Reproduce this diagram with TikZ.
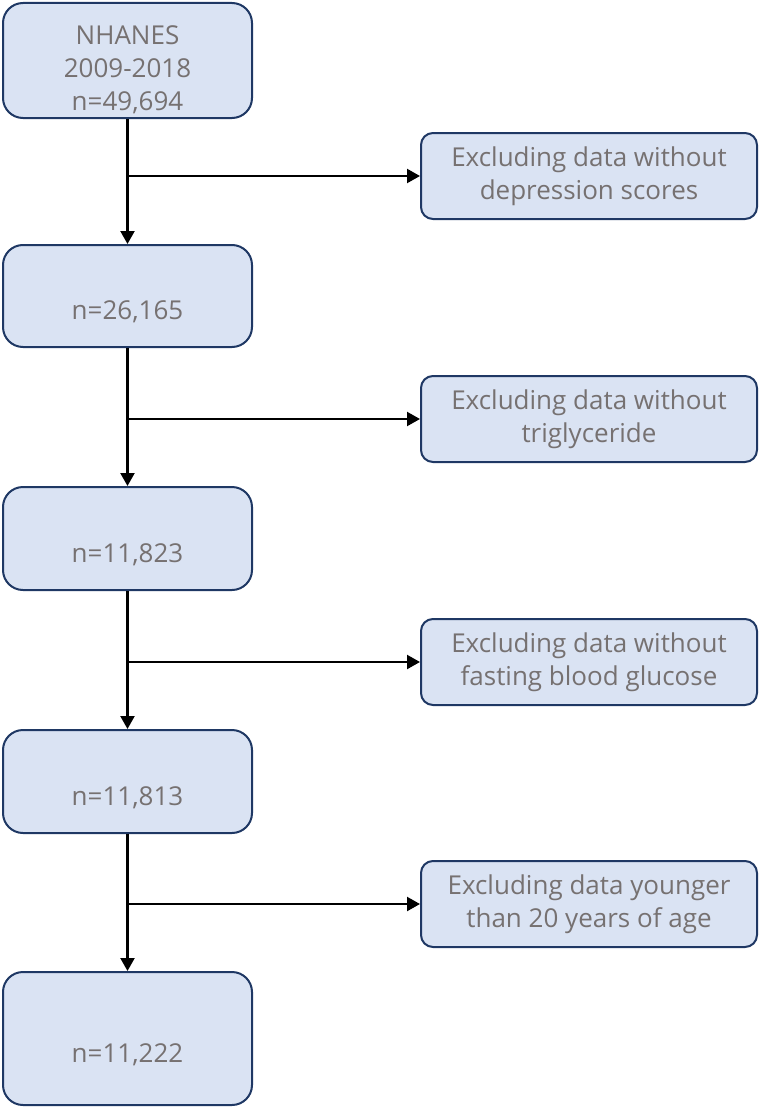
\documentclass[tikz,border=0pt]{standalone}
\usepackage{fontspec}
\setmainfont{Open Sans}
\usetikzlibrary{arrows.meta, positioning, calc}

\definecolor{boxfill}{HTML}{DAE3F3}
\definecolor{boxline}{HTML}{1F3864}
\definecolor{boxtext}{HTML}{767171}

\tikzset{
  countbox/.style={draw=boxline, fill=boxfill, line width=2pt, rounded corners=20pt,
    minimum width=249pt, align=center, text=boxtext,
    font=\fontsize{26}{33}\selectfont},
  onecount/.style={countbox, text height=53pt, text depth=6pt},
  exclbox/.style={draw=boxline, fill=boxfill, line width=2pt, rounded corners=12pt,
    minimum width=336pt, minimum height=86pt, align=center, text=boxtext,
    font=\fontsize{26}{33}\selectfont},
  flow/.style={line width=2.2pt, -{Triangle[length=13pt,width=14pt]}}
}

\begin{document}
\begin{tikzpicture}[x=1pt,y=-1pt]
\useasboundingbox (0,0) rectangle (762,1108);

% main counts
\node[countbox, minimum height=115pt] (n1) at (127.5,60.5) {\rule{0pt}{37pt}NHANES\\2009-2018\\n=49,694};
\node[onecount, minimum height=102pt] (n2) at (127.5,296) {n=26,165};
\node[onecount, minimum height=103pt] (n3) at (127.5,538.5) {n=11,823};
\node[onecount, minimum height=103pt] (n4) at (127.5,781.5) {n=11,813};
\node[onecount, minimum height=133pt] (n5) at (127.5,1038.5) {n=11,222};

% exclusions
\node[exclbox] (e1) at (589,176) {Excluding data without\\depression scores};
\node[exclbox] (e2) at (589,419) {Excluding data without\\triglyceride};
\node[exclbox] (e3) at (589,662) {Excluding data without\\fasting blood glucose};
\node[exclbox] (e4) at (589,904) {Excluding data younger\\than 20 years of age};

% arrows
\foreach \a/\b/\e in {n1/n2/e1, n2/n3/e2, n3/n4/e3, n4/n5/e4} {
  \draw[flow] (\a) -- (\b);
  \coordinate (b\e) at (\a.south |- \e.west);
  \draw[flow] (b\e) -- (\e);
}
\end{tikzpicture}
\end{document}
